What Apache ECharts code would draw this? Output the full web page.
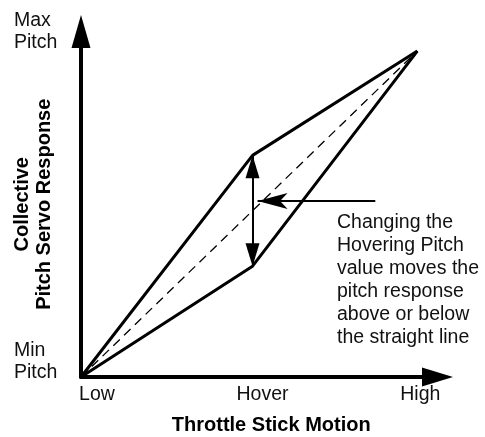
<!DOCTYPE html>
<html>
<head>
<meta charset="utf-8">
<script src="https://cdn.jsdelivr.net/npm/echarts@6/dist/echarts.min.js"></script>
<style>
  html, body { margin: 0; padding: 0; background: #fff; }
  #chart { width: 485px; height: 437px; }
</style>
</head>
<body>
<div id="chart"></div>
<script>
// pitch curves, x = throttle stick, y = pitch (0..100)
const upperCurve = [[0, 0], [51, 68], [100, 100]];
const lowerCurve = [[0, 0], [51, 34], [100, 100]];
const straightLine = [[0, 0], [100, 100]];

// annotations
const hoverArrow = [[51, 68], [51, 34]];
const noteArrow = [[87.5, 54], [52.5, 54]];
const noteText = 'Changing the\nHovering Pitch\nvalue moves the\npitch response\nabove or below\nthe straight line';

// tick labels
const xTickValues = [0, 51, 100];
const xTickLabels = ['Low', 'Hover', 'High'];
const yTickValues = [0, 106];
const yTickLabels = [['Min', 'Pitch'], ['Max', 'Pitch']];

const font = 'Liberation Sans, Arial, sans-serif';
const myChart = echarts.init(document.getElementById('chart'));

const options = {
  animation: false,
  backgroundColor: '#fff',
  grid: {
    left: 81,
    right: 47.5,
    top: 31.5,
    bottom: 60,
    outerBoundsMode: 'none',
  },
  xAxis: {
    type: 'value',
    min: 0,
    max: 106,
    splitLine: { show: false },
    axisTick: { show: false },
    axisLine: {
      lineStyle: { color: '#000', width: 4 },
      symbol: ['none', 'triangle'],
      symbolSize: [19, 31],
    },
    axisLabel: {
      customValues: xTickValues,
      margin: 8,
      formatter: (v) => {
        const i = xTickValues.indexOf(v);
        return i < 0 ? '' : '{t' + i + '|' + xTickLabels[i] + '}';
      },
      rich: {
        t0: { fontSize: 19.5, fontFamily: font, color: '#111', padding: [0, 0, 0, 32] },
        t1: { fontSize: 19.5, fontFamily: font, color: '#111', padding: [0, 0, 0, 20] },
        t2: { fontSize: 19.5, fontFamily: font, color: '#111', padding: [0, 0, 0, 6] },
      },
    },
    name: 'Throttle Stick Motion',
    nameLocation: 'middle',
    nameGap: 38,
    nameMoveOverlap: false,
    nameTextStyle: {
      fontSize: 20,
      fontWeight: 'bold',
      fontFamily: font,
      color: '#000',
      padding: [0, 0, 0, 24],
    },
  },
  yAxis: {
    type: 'value',
    min: 0,
    max: 106,
    splitLine: { show: false },
    axisTick: { show: false },
    axisLine: {
      lineStyle: { color: '#000', width: 4 },
      symbol: ['none', 'triangle'],
      symbolSize: [19, 33],
    },
    axisLabel: {
      customValues: yTickValues,
      align: 'left',
      margin: 67,
      formatter: (v) => {
        const i = yTickValues.indexOf(v);
        if (i < 0) return '';
        const lines = yTickLabels[i].map((s) => '{a|' + s + '}');
        if (i === 0) lines.push('{g|}'); // push min label up a bit
        return lines.join('\n');
      },
      rich: {
        a: { fontSize: 19.5, fontFamily: font, color: '#111', lineHeight: 22 },
        g: { fontSize: 10, lineHeight: 30 },
      },
    },
    name: 'Collective\nPitch Servo Response',
    nameLocation: 'middle',
    nameRotate: 90,
    nameGap: 26,
    nameMoveOverlap: false,
    nameTextStyle: {
      fontSize: 20,
      fontWeight: 'bold',
      fontFamily: font,
      color: '#000',
      lineHeight: 22,
    },
  },
  series: [
    {
      type: 'line',
      data: upperCurve,
      showSymbol: false,
      lineStyle: { color: '#000', width: 3 },
    },
    {
      type: 'line',
      data: lowerCurve,
      showSymbol: false,
      lineStyle: { color: '#000', width: 3 },
    },
    {
      type: 'line',
      data: straightLine,
      showSymbol: false,
      lineStyle: { color: '#000', width: 1.3, type: [9, 6] },
      markLine: {
        silent: true,
        label: { show: false },
        emphasis: { disabled: true },
        lineStyle: { color: '#000', width: 2, type: 'solid' },
        data: [
          [
            { coord: hoverArrow[0], symbol: 'triangle', symbolSize: [14, 23], symbolOffset: [0, 11.5] },
            { coord: hoverArrow[1], symbol: 'triangle', symbolSize: [14, 23], symbolOffset: [0, 11.5] },
          ],
          [
            { coord: noteArrow[0], symbol: 'none' },
            { coord: noteArrow[1], symbol: 'arrow', symbolSize: [12, 30] },
          ],
        ],
      },
    },
  ],
  graphic: [
    {
      type: 'text',
      left: 337,
      top: 211,
      style: {
        text: noteText,
        fontSize: 19.5,
        fontFamily: font,
        lineHeight: 23,
        fill: '#111',
      },
    },
  ],
};

myChart.setOption(options);
</script>
</body>
</html>
